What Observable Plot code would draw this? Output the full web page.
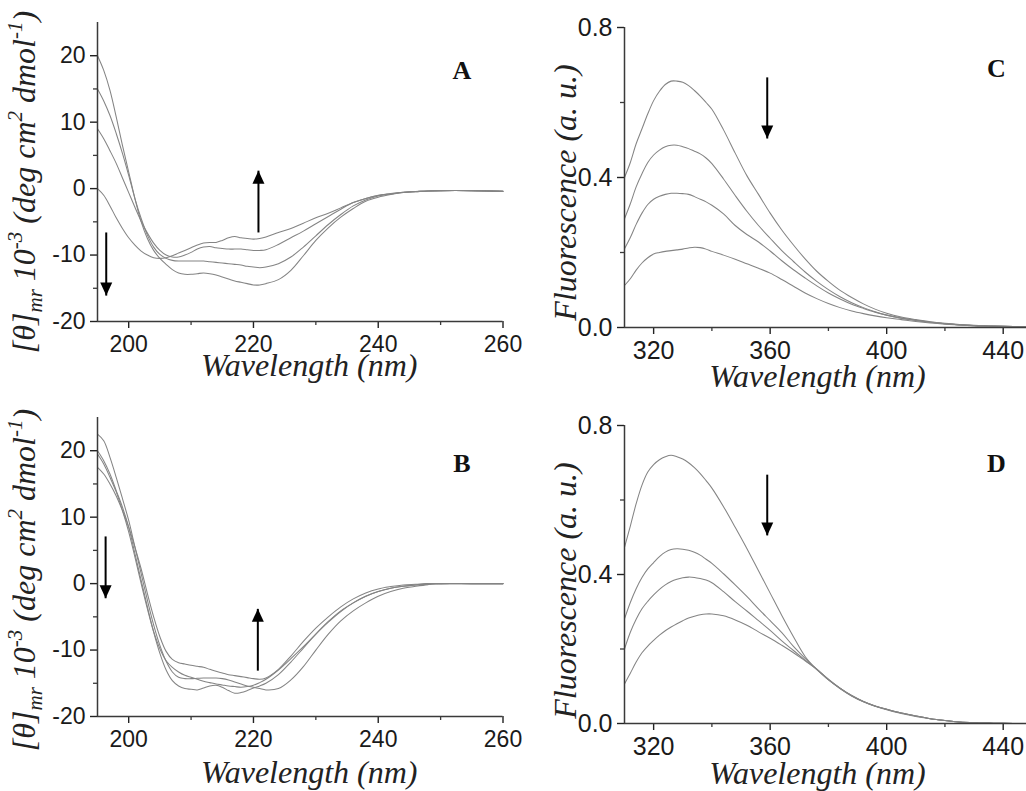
<!DOCTYPE html>
<html><head><meta charset="utf-8">
<script src="https://cdn.jsdelivr.net/npm/d3@7"></script>
<script src="https://cdn.jsdelivr.net/npm/@observablehq/plot@0.6"></script>
<style>
html,body{margin:0;padding:0;background:#fff;}
#root{position:relative;width:1026px;height:791px;overflow:hidden;background:#fff;}
.panel{position:absolute;}
.panel svg [aria-label^="x-axis"] line, .panel svg [aria-label^="x-axis"] path,
.panel svg [aria-label^="y-axis"] line, .panel svg [aria-label^="y-axis"] path{stroke-width:1.4;}
.panel svg [aria-label^="x-axis"] text, .panel svg [aria-label^="y-axis"] text{
  font-family:'Liberation Sans',Arial,sans-serif !important; fill:#1a1a1a;}
.panel.cd svg [aria-label^="x-axis"] text, .panel.cd svg [aria-label^="y-axis"] text{font-size:23px !important;}
.panel.fl svg [aria-label^="x-axis"] text, .panel.fl svg [aria-label^="y-axis"] text{font-size:25px !important;}
</style></head><body><div id="root"></div>
<script>
// ---------- data ----------
const cdWavelength = [195,196,197,198,199,200,201,202,203,204,205,206,207,208,209,210,211,212,213,214,215,216,217,218,219,220,221,222,224,226,228,230,232,234,236,238,240,242,244,246,248,250,255,260];
const cdA1 = [20,17.8,14.8,10.8,6.5,2.5,-1.5,-5,-7.5,-9.3,-10.5,-11.4,-12.2,-12.7,-12.9,-12.9,-12.8,-12.7,-12.8,-13.0,-13.3,-13.6,-13.9,-14.1,-14.3,-14.5,-14.5,-14.3,-13.7,-12.3,-10.1,-7.8,-5.9,-4.3,-3.0,-1.9,-1.3,-0.9,-0.6,-0.45,-0.35,-0.3,-0.3,-0.4];
const cdA2 = [15,13.2,11,8.3,5.3,2,-1.5,-4.5,-7,-8.8,-9.9,-10.5,-10.8,-10.9,-10.9,-10.9,-10.9,-10.9,-11.0,-11.1,-11.2,-11.3,-11.4,-11.5,-11.7,-11.8,-11.9,-11.8,-11.3,-10.3,-8.8,-7.1,-5.4,-3.9,-2.6,-1.7,-1.1,-0.8,-0.55,-0.45,-0.35,-0.3,-0.3,-0.4];
const cdA3 = [9,7.5,5.7,3.8,1.6,-0.6,-2.8,-4.9,-6.7,-8.2,-9.3,-10.0,-10.3,-10.3,-10.0,-9.6,-9.1,-8.8,-8.7,-8.9,-9.0,-9.1,-9.1,-9.1,-9.2,-9.3,-9.3,-9.2,-8.4,-7.4,-6.4,-5.3,-4.2,-3.1,-2.1,-1.5,-1.05,-0.75,-0.55,-0.45,-0.35,-0.3,-0.3,-0.4];
const cdA4 = [0,-1.0,-2.6,-4.4,-6.0,-7.4,-8.5,-9.4,-10.0,-10.4,-10.5,-10.4,-10.1,-9.7,-9.3,-8.9,-8.5,-8.2,-8.1,-8.1,-7.8,-7.4,-7.2,-7.4,-7.5,-7.6,-7.5,-7.3,-6.6,-6.0,-5.2,-4.4,-3.7,-2.9,-2.1,-1.5,-1.0,-0.8,-0.6,-0.45,-0.35,-0.3,-0.3,-0.4];
const cdB1 = [22.5,21.5,19,16,12.8,9.5,5.5,1.5,-2.5,-6.2,-9.3,-11.7,-13.3,-14.1,-14.3,-14.3,-14.25,-14.2,-14.2,-14.2,-14.3,-14.5,-14.8,-15.1,-15.4,-15.6,-15.8,-16.0,-15.8,-14.5,-12.5,-10,-7.6,-5.6,-4.1,-2.9,-1.9,-1.2,-0.7,-0.4,-0.15,0,0,0];
const cdB2 = [20,18.5,16.5,14,11.5,8.5,4.5,0.5,-3.5,-7.3,-10.5,-13,-14.6,-15.4,-15.8,-15.9,-16,-15.7,-15.4,-15.3,-15.6,-16.1,-16.5,-16.4,-16.1,-15.7,-15.4,-15.0,-13.7,-11.8,-9.7,-7.6,-5.7,-4.1,-2.9,-1.9,-1.2,-0.7,-0.4,-0.2,-0.05,0,0,0];
const cdB3 = [19.5,18,16,13.8,11,7.8,4,0,-3.8,-7.2,-9.8,-11.6,-12.6,-13.3,-13.8,-14.1,-14.4,-14.7,-14.9,-15.1,-15.25,-15.4,-15.5,-15.6,-15.5,-15.3,-14.9,-14.4,-13,-11.3,-9.5,-7.6,-5.8,-4.2,-2.9,-1.9,-1.2,-0.7,-0.4,-0.2,0,0,0,0];
const cdB4 = [17.5,16.5,15,13.2,11,8.5,5.5,2.2,-1.5,-5,-8,-10.2,-11.4,-11.9,-12.1,-12.3,-12.45,-12.6,-12.9,-13.2,-13.45,-13.7,-13.85,-14,-14.15,-14.3,-14.4,-14.2,-12.9,-10.9,-8.7,-6.7,-5,-3.5,-2.3,-1.4,-0.8,-0.45,-0.2,-0.1,0,0,0,0];

const flWavelength = [310,312,314,316,318,320,322,324,326,328,330,332,334,336,338,340,344,348,352,356,360,364,368,372,376,380,384,388,392,396,400,405,410,415,420,425,430,435,440,448];
const flC1 = [0.40,0.44,0.49,0.53,0.57,0.605,0.63,0.648,0.657,0.657,0.654,0.645,0.632,0.617,0.6,0.582,0.527,0.465,0.405,0.355,0.305,0.26,0.22,0.183,0.15,0.123,0.099,0.08,0.063,0.049,0.038,0.028,0.021,0.015,0.011,0.008,0.006,0.004,0.003,0.002];
const flC2 = [0.29,0.33,0.375,0.41,0.44,0.46,0.473,0.482,0.486,0.486,0.482,0.477,0.47,0.463,0.452,0.437,0.396,0.352,0.31,0.272,0.238,0.205,0.176,0.148,0.123,0.101,0.082,0.066,0.053,0.042,0.033,0.025,0.019,0.014,0.01,0.007,0.005,0.004,0.003,0.002];
const flC3 = [0.21,0.24,0.275,0.305,0.328,0.342,0.35,0.355,0.358,0.358,0.357,0.355,0.349,0.342,0.335,0.326,0.303,0.272,0.248,0.228,0.204,0.178,0.154,0.132,0.111,0.092,0.076,0.062,0.051,0.041,0.033,0.025,0.019,0.014,0.01,0.007,0.005,0.004,0.003,0.002];
const flC4 = [0.112,0.13,0.153,0.172,0.186,0.196,0.2,0.203,0.205,0.207,0.209,0.212,0.214,0.213,0.209,0.203,0.193,0.182,0.17,0.158,0.145,0.128,0.11,0.092,0.077,0.064,0.053,0.044,0.037,0.031,0.026,0.021,0.016,0.012,0.009,0.007,0.005,0.004,0.003,0.002];
const flD1 = [0.473,0.53,0.59,0.64,0.675,0.695,0.708,0.716,0.72,0.716,0.71,0.7,0.687,0.671,0.652,0.632,0.582,0.527,0.47,0.41,0.35,0.29,0.233,0.18,0.145,0.118,0.094,0.074,0.059,0.047,0.038,0.028,0.02,0.013,0.008,0.004,0.002,0.001,0.0005,0];
const flD2 = [0.281,0.325,0.362,0.392,0.415,0.432,0.448,0.46,0.467,0.469,0.468,0.465,0.46,0.452,0.441,0.43,0.402,0.372,0.341,0.308,0.276,0.244,0.207,0.175,0.146,0.119,0.095,0.075,0.059,0.047,0.038,0.028,0.02,0.013,0.008,0.004,0.002,0.001,0.0005,0];
const flD3 = [0.2,0.245,0.28,0.308,0.328,0.345,0.36,0.372,0.381,0.387,0.391,0.393,0.392,0.389,0.385,0.378,0.354,0.327,0.302,0.276,0.25,0.222,0.196,0.17,0.145,0.117,0.094,0.074,0.058,0.046,0.037,0.027,0.019,0.013,0.008,0.004,0.002,0.001,0.0005,0];
const flD4 = [0.106,0.135,0.165,0.19,0.208,0.223,0.237,0.249,0.259,0.268,0.276,0.283,0.288,0.292,0.294,0.294,0.289,0.278,0.264,0.246,0.229,0.21,0.19,0.168,0.146,0.118,0.095,0.075,0.059,0.047,0.038,0.028,0.02,0.013,0.008,0.004,0.002,0.001,0.0005,0];

const cdTicksX = [200,220,240,260], cdMinorX = [210,230,250];
const cdTicksY = [-20,-10,0,10,20], cdMinorY = [-15,-5,5,15];
const flTicksX = [320,360,400,440], flMinorX = [340,380,420];
const flTicksY = [0,0.4,0.8], flMinorY = [0.2,0.6];

// arrows: wavelength, start value, tip value
const arrowsA = [{w:196.4, from:-6.6, to:-16.1},{w:220.8, from:-6.6, to:2.7}];
const arrowsB = [{w:196.3, from:7.1, to:-2.2},{w:220.7, from:-13.1, to:-3.8}];
const arrowsC = [{w:359, from:0.667, to:0.504}];
const arrowsD = [{w:359, from:0.668, to:0.505}];

// ---------- helpers ----------
const serif = "'Liberation Serif','Times New Roman',Times,serif";
const sans = "'Liberation Sans',Arial,Helvetica,sans-serif";
const axisColor = "#3a3a3a";
const headDown = {draw(ctx){ctx.moveTo(0,0);ctx.lineTo(-6,-13);ctx.lineTo(6,-13);ctx.closePath();}};
const headUp = {draw(ctx){ctx.moveTo(0,0);ctx.lineTo(-6,13);ctx.lineTo(6,13);ctx.closePath();}};

function toRows(wl, list){
  return list.flatMap((vals, si) => vals.map((v, i) => ({w: wl[i], v, s: si})));
}

function makePanel(c){
  const x0 = c.xDomain[0], y0 = c.yDomain[0];
  const marks = [
    Plot.ruleX(c.xMinor, {y1: y0, y2: y0, insetBottom: -4, stroke: axisColor, strokeWidth: 1.3}),
    Plot.ruleY(c.yMinor, {x1: x0, x2: x0, insetLeft: -4, stroke: axisColor, strokeWidth: 1.3}),
    Plot.line(c.rows, {x: "w", y: "v", z: "s", stroke: "#848484", strokeWidth: 1.05, curve: "catmull-rom"}),
    Plot.ruleY([y0], {stroke: axisColor, strokeWidth: 1.5}),
    Plot.ruleX([x0], {stroke: axisColor, strokeWidth: 1.5}),
    Plot.link(c.arrows, {x1: "w", x2: "w", y1: "from", y2: "to", stroke: "#000", strokeWidth: 2}),
    Plot.dot(c.arrows.filter(a => a.to < a.from), {x: "w", y: "to", symbol: headDown, fill: "#000", r: 6}),
    Plot.dot(c.arrows.filter(a => a.to > a.from), {x: "w", y: "to", symbol: headUp, fill: "#000", r: 6}),
    Plot.text([c.letter], {text: d => d, frameAnchor: "top-right", dx: c.letterDx, dy: c.letterDy, lineAnchor: "bottom", textAnchor: "middle", fontFamily: serif, fontWeight: "bold", fontSize: 26, fill: "#111"}),
    Plot.text(["Wavelength (nm)"], {text: d => d, frameAnchor: "bottom", dx: c.xlDx, dy: c.xlDy, lineAnchor: "bottom", textAnchor: "middle", fontFamily: serif, fontStyle: "italic", fontSize: 32, fill: "#222"})
  ];
  if (c.plainYLabel) {
    marks.push(Plot.text([c.plainYLabel], {text: d => d, frameAnchor: "left", dx: c.ylDx, dy: c.ylDy, rotate: -90, lineAnchor: "bottom", textAnchor: "middle", fontFamily: serif, fontStyle: "italic", fontSize: 32, fill: "#222"}));
  }
  const svg = Plot.plot({
    width: c.width, height: c.height,
    marginLeft: c.ml, marginRight: c.mr, marginTop: c.mt, marginBottom: c.mb,
    style: {fontFamily: sans, fontSize: c.tickFont + "px", color: "#222", background: "transparent", overflow: "visible"},
    x: {domain: c.xDomain, ticks: c.xTicks, tickSize: 7, tickPadding: 7, tickFormat: c.xFormat, label: null},
    y: {domain: c.yDomain, ticks: c.yTicks, tickSize: 7, tickPadding: 5, tickFormat: c.yFormat, label: null},
    marks
  });
  if (c.thetaLabel) {
    const t = d3.select(svg).append("text")
      .attr("transform", `translate(${c.thetaLabel[0]},${c.thetaLabel[1]}) rotate(-90)`)
      .attr("text-anchor", "middle")
      .attr("fill", "#222")
      .style("font-family", serif).style("font-style", "italic").style("font-size", "32px");
    t.append("tspan").text("[θ]");
    t.append("tspan").attr("dy", 7).style("font-size", "21px").text("mr");
    t.append("tspan").attr("dy", -7).text(" 10");
    t.append("tspan").attr("dy", -13).style("font-size", "21px").text("-3");
    t.append("tspan").attr("dy", 13).text(" (deg cm");
    t.append("tspan").attr("dy", -13).style("font-size", "21px").text("2");
    t.append("tspan").attr("dy", 13).text(" dmol");
    t.append("tspan").attr("dy", -13).style("font-size", "21px").text("-1");
    t.append("tspan").attr("dy", 13).text(")");
  }
  const div = document.createElement("div");
  div.className = "panel " + c.kind;
  div.style.left = c.left + "px";
  div.style.top = c.top + "px";
  div.appendChild(svg);
  document.getElementById("root").appendChild(div);
}

const cdFmt = d => String(d);
const flFmt = d => d.toFixed(1);

makePanel({kind: "cd", tickFont: 23, left: 0, top: 0, width: 520, height: 395, ml: 97, mr: 17.5, mt: 22, mb: 74,
  xDomain: [195, 260], yDomain: [-20, 25], xTicks: cdTicksX, yTicks: cdTicksY, xMinor: cdMinorX, yMinor: cdMinorY,
  xFormat: cdFmt, yFormat: cdFmt, rows: toRows(cdWavelength, [cdA1, cdA2, cdA3, cdA4]), arrows: arrowsA,
  letter: "A", letterDx: -41, letterDy: 56, xlDx: 9, xlDy: 54, thetaLabel: [35, 182]});

makePanel({kind: "cd", tickFont: 23, left: 0, top: 400, width: 520, height: 391, ml: 97, mr: 17.5, mt: 17, mb: 75,
  xDomain: [195, 260], yDomain: [-20, 25], xTicks: cdTicksX, yTicks: cdTicksY, xMinor: cdMinorX, yMinor: cdMinorY,
  xFormat: cdFmt, yFormat: cdFmt, rows: toRows(cdWavelength, [cdB1, cdB2, cdB3, cdB4]), arrows: arrowsB,
  letter: "B", letterDx: -41, letterDy: 54, xlDx: 9, xlDy: 66, thetaLabel: [35, 180]});

makePanel({kind: "fl", tickFont: 25, left: 520, top: 0, width: 506, height: 400, ml: 104, mr: 0, mt: 27, mb: 73,
  xDomain: [310, 448], yDomain: [0, 0.8], xTicks: flTicksX, yTicks: flTicksY, xMinor: flMinorX, yMinor: flMinorY,
  xFormat: cdFmt, yFormat: flFmt, rows: toRows(flWavelength, [flC1, flC2, flC3, flC4]), arrows: arrowsC,
  letter: "C", letterDx: -30, letterDy: 49, xlDx: -8, xlDy: 59, plainYLabel: "Fluorescence (a. u.)", ylDx: -49, ylDy: 15});

makePanel({kind: "fl", tickFont: 25, left: 520, top: 400, width: 506, height: 391, ml: 104, mr: 0, mt: 25, mb: 68,
  xDomain: [310, 448], yDomain: [0, 0.8], xTicks: flTicksX, yTicks: flTicksY, xMinor: flMinorX, yMinor: flMinorY,
  xFormat: cdFmt, yFormat: flFmt, rows: toRows(flWavelength, [flD1, flD2, flD3, flD4]), arrows: arrowsD,
  letter: "D", letterDx: -30, letterDy: 46, xlDx: -8, xlDy: 60, plainYLabel: "Fluorescence (a. u.)", ylDx: -49, ylDy: 16});
</script></body></html>
